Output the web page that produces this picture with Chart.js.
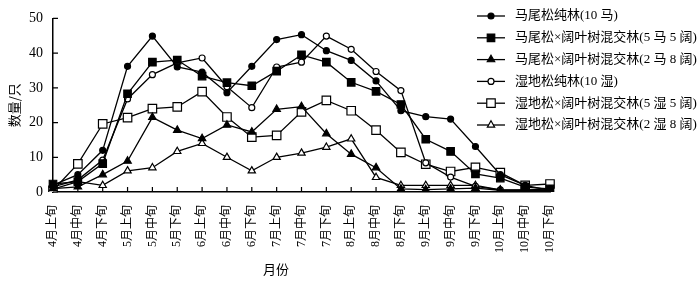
<!DOCTYPE html>
<html lang="zh">
<head>
<meta charset="utf-8">
<title>数量/只</title>
<script src="https://cdn.jsdelivr.net/npm/chart.js@4.4.1/dist/chart.umd.min.js"></script>
<style>
  html, body { margin: 0; padding: 0; background: #fff; }
  canvas { display: block; }
</style>
</head>
<body>
<canvas id="c" width="700" height="281"></canvas>
<script>
// 旬
var periods = ["4月上旬", "4月中旬", "4月下旬", "5月上旬", "5月中旬", "5月下旬", "6月上旬", "6月中旬", "6月下旬",
  "7月上旬", "7月中旬", "7月下旬", "8月上旬", "8月中旬", "8月下旬", "9月上旬", "9月中旬", "9月下旬",
  "10月上旬", "10月中旬", "10月下旬"];
var seriesNames = ["马尾松纯林(10 马)", "马尾松×阔叶树混交林(5 马 5 阔)", "马尾松×阔叶树混交林(2 马 8 阔)",
  "湿地松纯林(10 湿)", "湿地松×阔叶树混交林(5 湿 5 阔)", "湿地松×阔叶树混交林(2 湿 8 阔)"];
var ma10 = [2.0, 5.0, 12.0, 36.2, 44.9, 36.0, 34.5, 28.6, 36.2, 43.9, 45.3, 40.7, 37.9, 32.0, 23.4, 21.7, 21.0, 13.1, 5.0, 1.9, 0.5];
var ma5kuo5 = [2.3, 3.0, 8.2, 28.3, 37.4, 38.0, 33.4, 31.5, 30.6, 34.8, 39.5, 37.4, 31.6, 29.0, 25.2, 15.2, 11.7, 5.2, 4.0, 1.4, 0.9];
var ma2kuo8 = [1.0, 1.5, 5.0, 8.9, 21.5, 17.8, 15.4, 19.3, 17.3, 23.8, 24.6, 16.8, 10.9, 7.0, 0.9, 0.7, 0.9, 1.1, 0.5, 0.5, 0.5];
var shi10 = [1.5, 3.5, 9.2, 26.8, 33.8, 37.2, 38.6, 30.3, 24.3, 36.0, 37.4, 44.9, 41.1, 34.7, 29.2, 8.4, 4.3, 1.6, 0.6, 0.5, 1.0];
var shi5kuo5 = [0.5, 8.1, 19.6, 21.4, 24.0, 24.5, 28.9, 21.6, 15.8, 16.3, 23.1, 26.4, 23.4, 17.8, 11.4, 8.0, 5.9, 7.1, 5.6, 1.9, 2.3];
var shi2kuo8 = [0.8, 3.0, 1.9, 6.1, 7.0, 11.7, 14.0, 10.0, 6.1, 10.0, 11.2, 12.9, 15.3, 4.2, 1.9, 1.9, 1.9, 1.9, 0.6, 0.5, 0.5];
var yTicks = [0, 10, 20, 30, 40, 50];

var serif = "'Liberation Serif', 'Noto Sans CJK SC', serif";

function line(name, data, style, radius, filled) {
  return {
    label: name,
    data: data,
    borderColor: "#000",
    borderWidth: 1.3,
    backgroundColor: filled ? "#000" : "#fff",
    pointStyle: style,
    pointRadius: radius,
    pointBorderWidth: 1.2,
    pointBorderColor: "#000",
    pointBackgroundColor: filled ? "#000" : "#fff",
    tension: 0
  };
}

var datasets = [
  line(seriesNames[0], ma10, "circle", 3, true),
  line(seriesNames[1], ma5kuo5, "rect", 5.3, true),
  line(seriesNames[2], ma2kuo8, "triangle", 4.3, true),
  line(seriesNames[3], shi10, "circle", 3, false),
  line(seriesNames[4], shi5kuo5, "rect", 6, false),
  line(seriesNames[5], shi2kuo8, "triangle", 4.2, false)
];

// 坐标轴刻度(朝内)、图例、横轴标题
var extras = {
  id: "extras",
  afterDraw: function(chart) {
    var ctx = chart.ctx, area = chart.chartArea;
    var xs = chart.scales.x, ys = chart.scales.y;
    ctx.save();
    ctx.strokeStyle = "#000";
    ctx.lineWidth = 1.2;
    ctx.beginPath();
    for (var i = 0; i < yTicks.length; i++) {
      var y = ys.getPixelForValue(yTicks[i]);
      ctx.moveTo(area.left, y);
      ctx.lineTo(area.left + 5, y);
    }
    for (var j = 1; j < periods.length; j++) {
      var x = xs.getPixelForValue(j);
      ctx.moveTo(x, area.bottom);
      ctx.lineTo(x, area.bottom - 5);
    }
    ctx.stroke();

    // 图例
    ctx.font = "13px " + serif;
    ctx.textBaseline = "middle";
    ctx.fillStyle = "#000";
    for (var k = 0; k < datasets.length; k++) {
      var ds = datasets[k];
      var ly = 16 + k * 21.8;
      ctx.beginPath();
      ctx.lineWidth = 1.3;
      ctx.moveTo(477, ly);
      ctx.lineTo(505, ly);
      ctx.stroke();
      ctx.fillStyle = ds.pointBackgroundColor;
      ctx.lineWidth = 1.2;
      Chart.helpers.drawPoint(ctx, {pointStyle: ds.pointStyle, radius: ds.pointRadius, rotation: 0, borderWidth: 1.2}, 491, ly);
      ctx.fillStyle = "#000";
      ctx.fillText(ds.label, 515, ly);
    }

    ctx.font = "13px 'Noto Sans CJK SC', sans-serif";
    ctx.textAlign = "center";
    ctx.fillText("月份", 276, 269);
    ctx.restore();
  }
};

new Chart(document.getElementById("c"), {
  type: "line",
  data: { labels: periods, datasets: datasets },
  options: {
    responsive: false,
    devicePixelRatio: 1,
    animation: false,
    layout: { padding: { left: 6, right: 150, top: 13, bottom: 0 } },
    plugins: { legend: { display: false }, tooltip: { enabled: false } },
    scales: {
      x: {
        offset: false,
        grid: { display: false, drawTicks: false },
        border: { display: true, color: "#000", width: 1.5 },
        ticks: {
          color: "#000",
          font: { size: 12, family: serif },
          minRotation: 90,
          maxRotation: 90,
          autoSkip: false,
          padding: 13
        },
        afterFit: function(s) { s.height = 89; }
      },
      y: {
        min: 0,
        max: 50,
        grid: { display: false, drawTicks: false },
        border: { display: true, color: "#000", width: 1.5 },
        ticks: {
          stepSize: 10,
          color: "#000",
          font: { size: 14, family: serif },
          padding: 10
        },
        title: {
          display: true,
          text: "数量/只",
          color: "#000",
          font: { size: 13, family: "'Noto Sans CJK SC', sans-serif" },
          padding: { top: 0, bottom: 2 }
        },
        afterFit: function(s) { s.width = 47; }
      }
    }
  },
  plugins: [extras]
});
</script>
</body>
</html>
